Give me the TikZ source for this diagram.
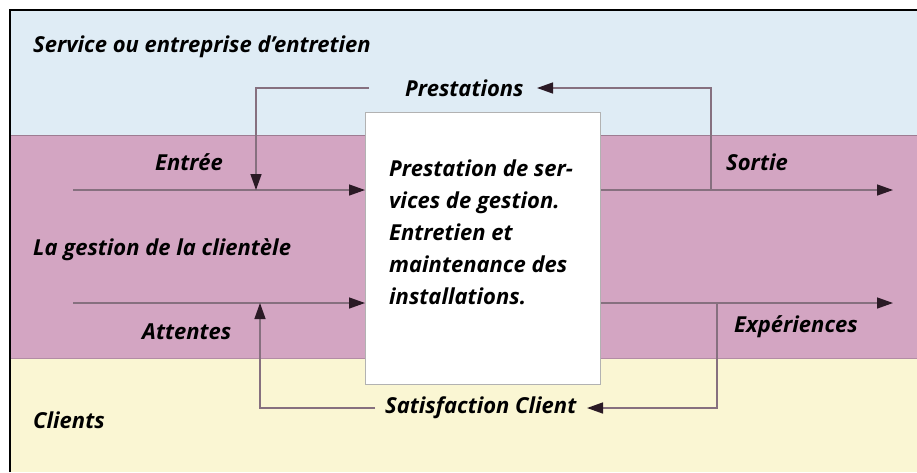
\documentclass[tikz,border=0pt]{standalone}
\usepackage{fontspec}
\setmainfont{Open Sans}
\usetikzlibrary{arrows.meta}
\definecolor{bandblue}{HTML}{DFECF5}
\definecolor{bandpink}{HTML}{D3A5C2}
\definecolor{bandyellow}{HTML}{FAF6D3}
\definecolor{tipdark}{HTML}{2A1A25}
\definecolor{wire}{HTML}{86707F}
\tikzset{
  lbl/.style={font=\fontsize{22}{22}\selectfont\bfseries\itshape, inner sep=0pt},
  flow/.style={draw=wire, line width=1.4pt,
    -{Triangle[length=16pt,width=11pt,fill=tipdark,color=tipdark]}},
}
\begin{document}
\begin{tikzpicture}[x=1pt,y=-1pt]
\useasboundingbox (0,0) rectangle (917,472);
% three horizontal bands
\fill[white] (0,0) rectangle (917,472);
\fill[bandblue] (10,10) rectangle (917,135);
\fill[bandpink] (10,135) rectangle (917,358);
\fill[bandyellow] (10,358) rectangle (917,472);
\draw[bandpink!75!black, line width=1pt] (10,135) -- (917,135);
\draw[bandpink!85!black, line width=1pt] (10,358) -- (917,358);
% outer frame (top and left edges)
\draw[black, line width=1.5pt] (10,472) -- (10,10) -- (917,10);

% central process box
\node[draw=black!30, fill=white, line width=1.2pt, minimum width=235pt, minimum height=272pt,
      inner sep=0pt, anchor=north west] (proc) at (365,112) {};
\node[lbl, align=left, anchor=north west, font=\fontsize{22}{32}\selectfont\bfseries\itshape]
  (proctext) at (389,160) {Prestation de ser-\\vices de gestion.\\Entretien et\\maintenance des\\installations.};

% band titles
\node[lbl, anchor=west] (tservice) at (33,47) {Service ou entreprise d’entretien};
\node[lbl, anchor=west] (tgestion) at (33,250) {La gestion de la clientèle};
\node[lbl, anchor=west] (tclients) at (33,420) {Clients};

% flow labels
\node[lbl, anchor=west] (tentree) at (155,162) {Entrée};
\node[lbl, anchor=west] (tsortie) at (726,162) {Sortie};
\node[lbl, anchor=west] (tattentes) at (142,332) {Attentes};
\node[lbl, anchor=west] (texp) at (734,327) {Expériences};
\node[lbl, anchor=west] (tprest) at (405,88) {Prestations};
\node[lbl, anchor=west] (tsat) at (385,408) {Satisfaction Client};

% connector points
\coordinate (inA) at (73,190);
\coordinate (inB) at (73,303);
\coordinate (outA) at (893,190);
\coordinate (outB) at (893,303);
\coordinate (procA) at (proc.west |- inA);
\coordinate (procB) at (proc.west |- inB);
\coordinate (procRA) at (proc.east |- inA);
\coordinate (procRB) at (proc.east |- inB);
\coordinate (topR) at (711,88);
\coordinate (topL) at (256,88);
\coordinate (botR) at (717,408);
\coordinate (botL) at (260,408);
\coordinate (prestE) at (537,88);
\coordinate (prestW) at (369,88);
\coordinate (satE) at (587,408);
\coordinate (satW) at (375,408);

% main horizontal flows
\draw[flow] (inA) -- (procA);
\draw[flow] (inB) -- (procB);
\draw[flow] (procRA) -- (outA);
\draw[flow] (procRB) -- (outB);

% feedback loops
\draw[flow] (topR |- procRA) -- (topR) -- (prestE);
\draw[flow] (prestW) -- (topL) -- (topL |- inA);
\draw[flow] (botR |- procRB) -- (botR) -- (satE);
\draw[flow] (satW) -- (botL) -- (botL |- inB);
\end{tikzpicture}
\end{document}
